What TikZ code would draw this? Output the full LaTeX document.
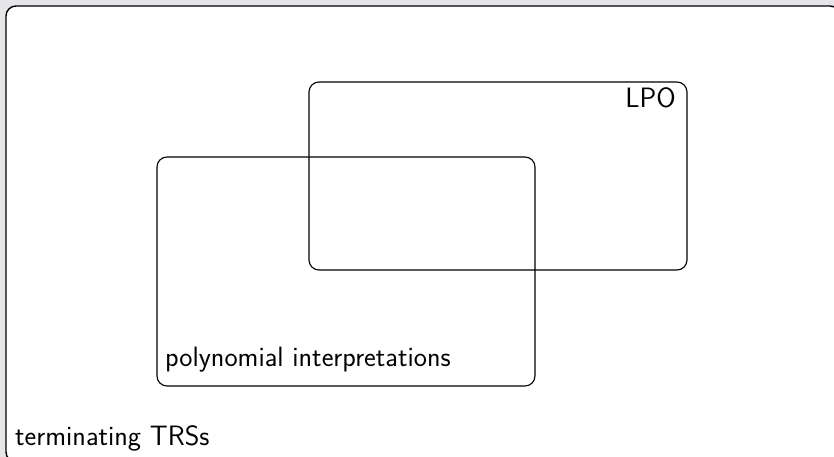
\documentclass[tikz,border=0pt]{standalone}
\usepackage{fontspec}
\setsansfont{Latin Modern Sans}
\begin{document}
\begin{tikzpicture}[x=1pt,y=-1pt,
  setbox/.style={draw=black, line width=1.1pt, rounded corners=10pt, inner sep=0pt},
  lbl/.style={font=\sffamily\fontsize{28}{32}\selectfont, inner sep=0pt, text=black}]
\useasboundingbox (0,0) rectangle (834,457);
\fill[fill={rgb,255:red,230;green,230;blue,234}] (0,0) rectangle (834,457);
\begin{scope}
\clip (0,0) rectangle (834,457);
\node[setbox, fill=white, line width=1.4pt, minimum width=834pt, minimum height=456pt] (trs) at (423,234) {};
\end{scope}
\node[setbox, minimum width=378pt, minimum height=229pt] (poly) at (346,271.5) {};
\node[setbox, minimum width=378pt, minimum height=188pt] (lpo) at (498,176) {};
\node[lbl, anchor=base east] (lpolbl) at (676,108) {LPO};
\node[lbl, anchor=base west] (polylbl) at (165,366) {polynomial interpretations};
\node[lbl, anchor=base west] (trslbl) at (15,445) {terminating TRSs};
\end{tikzpicture}
\end{document}
